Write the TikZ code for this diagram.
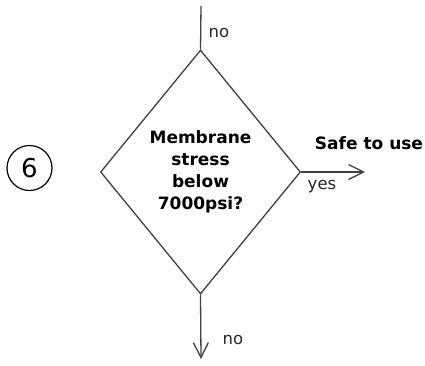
\documentclass[tikz,border=0pt]{standalone}
\usepackage{fontspec}
\setmainfont{DejaVu Sans}
\usetikzlibrary{shapes.geometric,arrows.meta}
\definecolor{linec}{HTML}{404040}
\begin{document}
\begin{tikzpicture}[x=1pt,y=-1pt,
  conn/.style={draw=linec,line width=1.3pt},
  arr/.style={conn,-{Straight Barb[length=15pt,width=15pt,line width=1.3pt]}},
  lbl/.style={font=\fontsize{16.5}{18}\selectfont,text=black!85,inner sep=0pt},
  decision/.style={diamond,draw=linec,line width=1.3pt,minimum width=200pt,minimum height=244pt,inner sep=0pt,align=center,font=\bfseries\fontsize{17}{22}\selectfont}]
\useasboundingbox (0,0) rectangle (425,365);
\node[decision] (d) at (200.5,172) {Membrane\\stress\\below\\7000psi?};
\coordinate (topin) at (201,6);
\coordinate (rightout) at (365,172);
\coordinate (botout) at (201,359);
\draw[conn] (topin) -- (d.north);
\draw[arr] (d.east) -- (rightout);
\draw[arr] (d.south) -- (botout);
\node[lbl] (notop) at (219,33) {no};
\node[lbl] (nobot) at (233,340) {no};
\node[lbl] (yes) at (322,187) {yes};
\node[inner sep=0pt,font=\bfseries\fontsize{17}{18}\selectfont] (safe) at (369,143) {Safe to use};
\node[circle,draw=black,line width=1.2pt,minimum size=45pt,inner sep=0pt,font=\fontsize{26}{28}\selectfont] (six) at (29.5,168) {6};
\end{tikzpicture}
\end{document}
